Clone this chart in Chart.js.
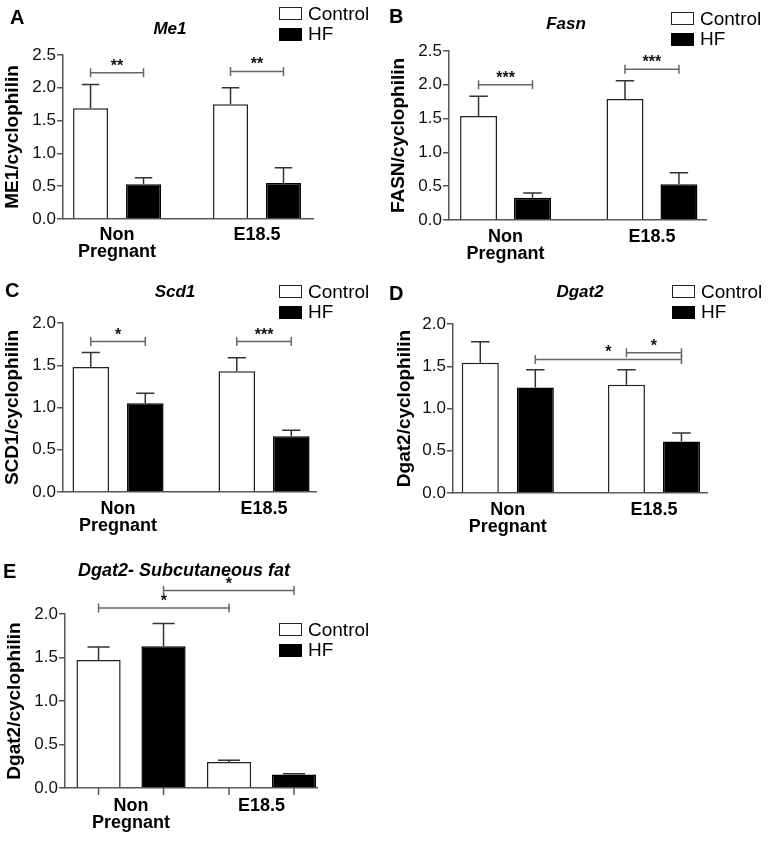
<!DOCTYPE html>
<html>
<head>
<meta charset="utf-8">
<script src="https://cdn.jsdelivr.net/npm/chart.js@4.4.1/dist/chart.umd.min.js"></script>
<style>
  body { margin: 0; background: #fff; }
  #page { position: relative; width: 768px; height: 844px; overflow: hidden; font-family: "Liberation Sans", Arial, sans-serif; color: #000; }
  canvas { position: absolute; }
  .letter { position: absolute; font-size: 20px; font-weight: bold; line-height: 20px; }
  .title { position: absolute; font-size: 17px; font-weight: bold; font-style: italic; line-height: 17px; transform: translateX(-50%); white-space: nowrap; }
  .legend { position: absolute; font-size: 19px; }
  .legend div { display: flex; align-items: center; height: 20.5px; }
  .legend i { display: inline-block; box-sizing: border-box; width: 23px; height: 13px; border: 1.5px solid #222; margin-right: 6px; background: #fff; }
</style>
</head>
<body>
<div id="page">
  <canvas id="me1" width="384" height="270" style="left:0;top:0"></canvas>
  <canvas id="fasn" width="384" height="270" style="left:384px;top:0"></canvas>
  <canvas id="scd1" width="384" height="290" style="left:0;top:270px"></canvas>
  <canvas id="dgat2" width="384" height="290" style="left:384px;top:270px"></canvas>
  <canvas id="dgat2sc" width="384" height="284" style="left:0;top:560px"></canvas>

  <div class="letter" style="left:10px;top:7px">A</div>
  <div class="title" style="left:170px;top:19.5px">Me1</div>
  <div class="legend" id="legA" style="left:279px;top:3.5px"></div>

  <div class="letter" style="left:389px;top:5.5px">B</div>
  <div class="title" style="left:566px;top:14.8px">Fasn</div>
  <div class="legend" id="legB" style="left:671px;top:8.5px"></div>

  <div class="letter" style="left:5px;top:279.5px">C</div>
  <div class="title" style="left:175px;top:282.8px">Scd1</div>
  <div class="legend" id="legC" style="left:279px;top:281.5px"></div>

  <div class="letter" style="left:389px;top:282.5px">D</div>
  <div class="title" style="left:580px;top:282.8px">Dgat2</div>
  <div class="legend" id="legD" style="left:672px;top:281.5px"></div>

  <div class="letter" style="left:3px;top:560.5px">E</div>
  <div class="title" style="left:184px;top:561px;font-size:18px;line-height:18px">Dgat2- Subcutaneous fat</div>
  <div class="legend" id="legE" style="left:279px;top:619.5px"></div>
</div>
<script>
const groups = [['Non', 'Pregnant'], 'E18.5'];
const seriesNames = ['Control', 'HF'];

// significance brackets: [series, group, series, group, level, stars]

// A - Me1
const me1Control = [1.69, 1.75];
const me1ControlSem = [0.36, 0.25];
const me1Hf = [0.53, 0.55];
const me1HfSem = [0.10, 0.23];
const me1Sig = [[0, 0, 1, 0, 2.23, '**'], [0, 1, 1, 1, 2.25, '**']];

// B - Fasn
const fasnControl = [1.54, 1.79];
const fasnControlSem = [0.29, 0.27];
const fasnHf = [0.33, 0.53];
const fasnHfSem = [0.07, 0.17];
const fasnSig = [[0, 0, 1, 0, 2.0, '***'], [0, 1, 1, 1, 2.23, '***']];

// C - Scd1
const scd1Control = [1.48, 1.43];
const scd1ControlSem = [0.17, 0.16];
const scd1Hf = [1.05, 0.66];
const scd1HfSem = [0.12, 0.07];
const scd1Sig = [[0, 0, 1, 0, 1.78, '*'], [0, 1, 1, 1, 1.78, '***']];

// D - Dgat2
const dgat2Control = [1.54, 1.28];
const dgat2ControlSem = [0.25, 0.18];
const dgat2Hf = [1.25, 0.61];
const dgat2HfSem = [0.21, 0.10];
const dgat2Sig = [[0, 1, 1, 1, 1.66, '*'], [1, 0, 1, 1, 1.58, '*']];

// E - Dgat2 subcutaneous fat
const dgat2ScControl = [1.47, 0.30];
const dgat2ScControlSem = [0.15, 0.02];
const dgat2ScHf = [1.63, 0.155];
const dgat2ScHfSem = [0.26, 0.01];
const dgat2ScSig = [[0, 0, 0, 1, 2.07, '*'], [1, 0, 1, 1, 2.27, '*']];

const family = "'Liberation Sans', Arial, sans-serif";

// 误差线 + 显著性括号
const errorBars = {
    id: 'errorBars',
    afterDatasetsDraw(chart, args, opts) {
        const ctx = chart.ctx;
        const y = chart.scales.y;
        ctx.save();
        ctx.lineWidth = 1.5;
        ctx.strokeStyle = '#333';
        chart.data.datasets.forEach((ds, di) => {
            chart.getDatasetMeta(di).data.forEach((bar, i) => {
                const top = y.getPixelForValue(ds.data[i].y + ds.sem[i]);
                const half = bar.width / 4;
                ctx.beginPath();
                ctx.moveTo(bar.x, bar.y);
                ctx.lineTo(bar.x, top);
                ctx.moveTo(bar.x - half, top);
                ctx.lineTo(bar.x + half, top);
                ctx.stroke();
                if (opts.xTicks) {
                    ctx.strokeStyle = '#555';
                    ctx.beginPath();
                    ctx.moveTo(bar.x, chart.chartArea.bottom);
                    ctx.lineTo(bar.x, chart.chartArea.bottom + 7);
                    ctx.stroke();
                    ctx.strokeStyle = '#333';
                }
            });
        });
        ctx.strokeStyle = '#666';
        ctx.fillStyle = '#111';
        ctx.font = 'bold 16px ' + family;
        ctx.textAlign = 'center';
        ctx.textBaseline = 'alphabetic';
        (opts.brackets || []).forEach(([s1, g1, s2, g2, level, label]) => {
            const x1 = chart.getDatasetMeta(s1).data[g1].x;
            const x2 = chart.getDatasetMeta(s2).data[g2].x;
            const yy = y.getPixelForValue(level);
            ctx.beginPath();
            ctx.moveTo(x1, yy);
            ctx.lineTo(x2, yy);
            ctx.moveTo(x1, yy - 4.5);
            ctx.lineTo(x1, yy + 4.5);
            ctx.moveTo(x2, yy - 4.5);
            ctx.lineTo(x2, yy + 4.5);
            ctx.stroke();
            ctx.fillText(label, (x1 + x2) / 2, yy - 2);
        });
        ctx.restore();
    }
};

function makePanel(id, p) {
    const toPoints = arr => arr.map((v, i) => ({x: i, y: v}));
    return new Chart(document.getElementById(id), {
        type: 'bar',
        data: {
            datasets: [{
                label: seriesNames[0],
                data: toPoints(p.control),
                sem: p.controlSem,
                backgroundColor: '#fff',
                borderColor: '#222',
                borderWidth: 1.5,
                categoryPercentage: p.cat,
                barPercentage: p.bar
            }, {
                label: seriesNames[1],
                data: toPoints(p.hf),
                sem: p.hfSem,
                backgroundColor: '#000',
                borderColor: '#000',
                borderWidth: 1.5,
                categoryPercentage: p.cat,
                barPercentage: p.bar
            }]
        },
        options: {
            responsive: false,
            animation: false,
            layout: {padding: {left: 0, top: p.top, right: p.w - p.right, bottom: 0}},
            plugins: {
                legend: {display: false},
                tooltip: {enabled: false},
                errorBars: {brackets: p.sig, xTicks: p.xTicks}
            },
            scales: {
                x: {
                    type: 'linear',
                    min: p.xMin,
                    max: p.xMax,
                    bounds: 'data',
                    offset: false,
                    afterBuildTicks: s => { s.ticks = groups.map((g, i) => ({value: i})); },
                    ticks: {
                        autoSkip: false,
                        maxRotation: 0,
                        padding: p.xPad,
                        color: '#000',
                        font: {family, size: 18, weight: 'bold', lineHeight: 0.96},
                        callback: v => groups[v]
                    },
                    grid: {display: false, drawTicks: false},
                    border: {color: '#555', width: 1.5},
                    afterFit: s => { s.height = p.h - p.bottom; }
                },
                y: {
                    min: 0,
                    max: p.yMax,
                    ticks: {
                        stepSize: 0.5,
                        padding: 1,
                        color: '#111',
                        font: {family, size: 17},
                        callback: v => v.toFixed(1)
                    },
                    grid: {drawOnChartArea: false, drawTicks: true, tickLength: 6, color: '#555', lineWidth: 1.5},
                    border: {color: '#555', width: 1.5},
                    title: {
                        display: true,
                        text: p.yTitle,
                        color: '#000',
                        font: {family, size: 19, weight: 'bold'},
                        padding: {top: p.titlePad, bottom: 0}
                    },
                    afterFit: s => { s.width = p.left; }
                }
            }
        },
        plugins: [errorBars]
    });
}

function makeLegend(id) {
    const el = document.getElementById(id);
    seriesNames.forEach((name, i) => {
        const row = document.createElement('div');
        const box = document.createElement('i');
        if (i === 1) {
            box.style.background = '#000';
            box.style.borderColor = '#000';
        }
        row.appendChild(box);
        row.appendChild(document.createTextNode(name));
        el.appendChild(row);
    });
}

makePanel('me1', {
    control: me1Control, controlSem: me1ControlSem, hf: me1Hf, hfSem: me1HfSem, sig: me1Sig,
    yTitle: 'ME1/cyclophilin', yMax: 2.5,
    w: 384, h: 270, left: 63, right: 313, top: 55, bottom: 219,
    xMin: -0.386, xMax: 1.4, cat: 0.757, bar: 0.66, titlePad: 1, xPad: 7
});
makePanel('fasn', {
    control: fasnControl, controlSem: fasnControlSem, hf: fasnHf, hfSem: fasnHfSem, sig: fasnSig,
    yTitle: 'FASN/cyclophilin', yMax: 2.5,
    w: 384, h: 270, left: 65, right: 322, top: 51, bottom: 220,
    xMin: -0.386, xMax: 1.369, cat: 0.737, bar: 0.685, titlePad: 3, xPad: 8
});
makePanel('scd1', {
    control: scd1Control, controlSem: scd1ControlSem, hf: scd1Hf, hfSem: scd1HfSem, sig: scd1Sig,
    yTitle: 'SCD1/cyclophilin', yMax: 2.0,
    w: 384, h: 290, left: 63, right: 316, top: 53, bottom: 222,
    xMin: -0.377, xMax: 1.356, cat: 0.747, bar: 0.67, titlePad: 1, xPad: 8
});
makePanel('dgat2', {
    control: dgat2Control, controlSem: dgat2ControlSem, hf: dgat2Hf, hfSem: dgat2HfSem, sig: dgat2Sig,
    yTitle: 'Dgat2/cyclophilin', yMax: 2.0,
    w: 384, h: 290, left: 69, right: 323, top: 54, bottom: 223,
    xMin: -0.375, xMax: 1.363, cat: 0.753, bar: 0.673, titlePad: 9, xPad: 8
});
makePanel('dgat2sc', {
    control: dgat2ScControl, controlSem: dgat2ScControlSem, hf: dgat2ScHf, hfSem: dgat2ScHfSem, sig: dgat2ScSig,
    yTitle: 'Dgat2/cyclophilin', yMax: 2.0,
    w: 384, h: 284, left: 65, right: 317, top: 54, bottom: 228,
    xMin: -0.506, xMax: 1.425, cat: 0.996, bar: 0.68, titlePad: 3, xPad: 9, xTicks: true
});

['legA', 'legB', 'legC', 'legD', 'legE'].forEach(makeLegend);
</script>
</body>
</html>
